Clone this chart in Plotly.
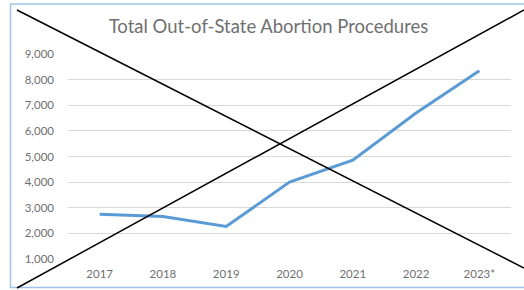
import plotly.graph_objects as go

years = ["2017", "2018", "2019", "2020", "2021", "2022", "2023*"]
procedures = [2750, 2660, 2270, 4000, 4860, 6700, 8350]
y_ticks = [1000, 2000, 3000, 4000, 5000, 6000, 7000, 8000, 9000]
y_tick_labels = ["1,000", "2,000", "3,000", "4,000", "5,000", "6,000", "7,000", "8,000", "9,000"]

W, H = 524, 290
L, R, T, B = 68, 13, 54, 31
pw, ph = W - L - R, H - T - B

def px(x):
    return (x - L) / pw

def py(y):
    return (H - B - y) / ph

fig = go.Figure()
fig.add_trace(go.Scatter(
    x=years, y=procedures, mode="lines",
    line=dict(color="#5B9BD5", width=3),
    showlegend=False, hoverinfo="skip",
))

font_family = "Lato, 'Open Sans', sans-serif"
fig.update_layout(
    width=W, height=H,
    margin=dict(l=L, r=R, t=T, b=B, autoexpand=False),
    paper_bgcolor="white", plot_bgcolor="white",
    title=dict(text="Total Out-of-State Abortion Procedures",
               x=268.5 / W, xref="container", xanchor="center",
               y=1 - 27 / H, yref="container", yanchor="middle",
               automargin=False,
               font=dict(family=font_family, size=18.5, color="#707070")),
    xaxis=dict(type="category", range=[-0.5, len(years) - 0.5],
               showgrid=False, zeroline=False, showline=False, automargin=False,
               tickfont=dict(family=font_family, size=11.5, color="#707070"),
               ticklabelstandoff=6),
    yaxis=dict(range=[1000, 9000], tickvals=y_ticks, ticktext=y_tick_labels,
               showgrid=True, gridcolor="#D9D9D9", gridwidth=1, automargin=False,
               zeroline=False, showline=False,
               tickfont=dict(family=font_family, size=11.5, color="#707070"),
               ticklabelstandoff=13),
)

# chart border (light blue frame)
fig.add_shape(type="rect", xref="paper", yref="paper",
              x0=px(10.5), x1=px(530), y0=py(287.5), y1=py(4),
              line=dict(color="#9DC3E6", width=1.5), layer="below")
# crossing black lines
fig.add_shape(type="line", xref="paper", yref="paper",
              x0=px(17), y0=py(10), x1=px(524), y1=py(268),
              line=dict(color="black", width=1.5))
fig.add_shape(type="line", xref="paper", yref="paper",
              x0=px(17), y0=py(288), x1=px(524), y1=py(10),
              line=dict(color="black", width=1.5))

fig.write_html("out.html", config={"displayModeBar": False},
               post_script="document.body.style.margin='0';document.body.style.overflow='hidden';")
